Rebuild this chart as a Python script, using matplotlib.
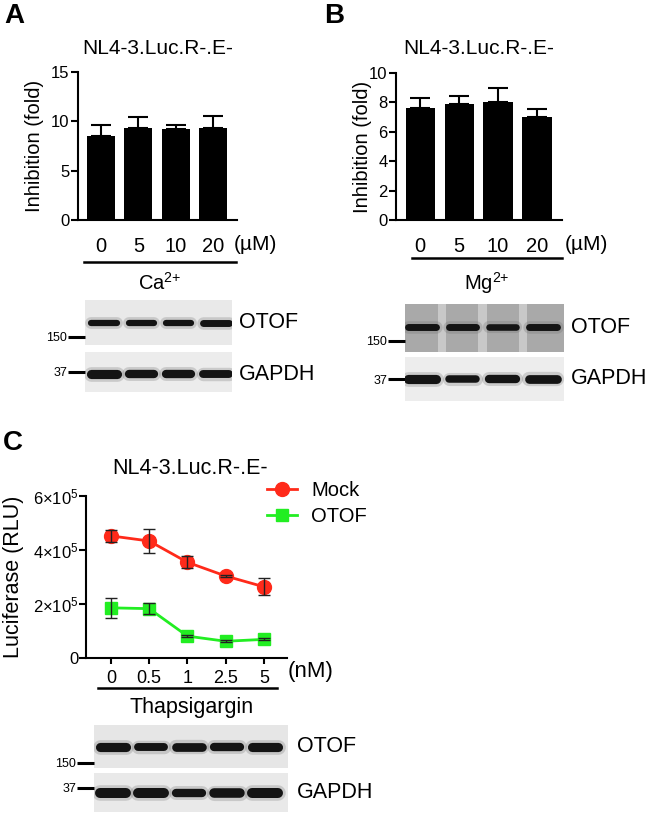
import matplotlib
matplotlib.use("Agg")
import matplotlib.pyplot as plt
import numpy as np

plt.rcParams['font.family'] = ['Liberation Sans', 'DejaVu Sans']
plt.rcParams['mathtext.fontset'] = 'custom'
plt.rcParams['mathtext.rm'] = 'Liberation Sans'
plt.rcParams['mathtext.it'] = 'Liberation Sans:italic'
plt.rcParams['mathtext.bf'] = 'Liberation Sans:bold'

W, H = 650, 815

# data
conc_labels = ['0', '5', '10', '20']
ca_mean = [8.5, 9.35, 9.25, 9.3]
ca_err = [1.1, 1.1, 0.4, 1.2]
mg_mean = [7.65, 7.9, 8.03, 7.0]
mg_err = [0.68, 0.55, 0.95, 0.58]

tg_labels = ['0', '0.5', '1', '2.5', '5']
mock_mean = [4.52e5, 4.33e5, 3.54e5, 3.03e5, 2.63e5]
mock_err = [0.22e5, 0.45e5, 0.23e5, 0.05e5, 0.31e5]
otof_mean = [1.85e5, 1.82e5, 0.80e5, 0.61e5, 0.68e5]
otof_err = [0.37e5, 0.20e5, 0.04e5, 0.03e5, 0.04e5]

# relative band strength per lane (western blots)
a_otof_bands = [0.9, 0.9, 0.9, 1.0]
a_gapdh_bands = [1.1, 1.0, 1.0, 0.95]
b_otof_bands = [1.0, 1.0, 0.95, 1.0]
b_gapdh_bands = [1.1, 0.9, 1.0, 1.05]
c_otof_bands = [1.1, 0.95, 1.05, 1.0, 1.1]
c_gapdh_bands = [1.2, 1.2, 1.0, 1.15, 1.2]

fig = plt.figure(figsize=(6.5, 8.15), dpi=100)


def add_ax(x0, y0, x1, y1):
    return fig.add_axes([x0 / W, 1 - y1 / H, (x1 - x0) / W, (y1 - y0) / H])


def ftext(x, y, s, **kw):
    fig.text(x / W, 1 - y / H, s, **kw)


def fline(x0, x1, y, lw=1.8):
    fig.add_artist(plt.Line2D([x0 / W, x1 / W], [1 - y / H] * 2,
                              color='black', lw=lw))


def bar_panel(box, means, errs, ymax, step):
    ax = add_ax(*box)
    x = np.arange(len(means))
    ax.bar(x, means, width=0.75, color='black', zorder=2)
    ax.errorbar(x, means, yerr=[np.zeros(len(errs)), errs], fmt='none',
                ecolor='black', elinewidth=1.5, capsize=7, capthick=1.5, zorder=1)
    ax.set_ylim(0, ymax)
    ax.set_yticks(np.arange(0, ymax + 0.01, step))
    ax.set_xlim(-0.62, len(means) - 0.36)
    ax.set_xticks(x)
    ax.set_xticklabels(conc_labels, fontsize=14.5)
    ax.tick_params(axis='x', length=0, pad=12)
    ax.tick_params(axis='y', length=5, width=1.5, labelsize=12, pad=1)
    for s in ['top', 'right']:
        ax.spines[s].set_visible(False)
    for s in ['left', 'bottom']:
        ax.spines[s].set_linewidth(1.5)
    return ax


def blot(box, bands, band_y, xl, bg, mark_y, mark, label, gaps=None, bw=5.5):
    ax = add_ax(*box)
    ax.set_facecolor(bg)
    ax.set_xlim(*xl)
    ax.set_ylim(1, 0)
    if gaps:
        for i in range(len(bands) - 1):
            ax.axvspan(i + 0.5 - gaps[0], i + 0.5 + gaps[0], color=gaps[1], lw=0)
    for i, s in enumerate(bands):
        ax.plot([i - 0.34, i + 0.34], [band_y, band_y], color='#666666',
                lw=bw * s + 4, alpha=0.25, solid_capstyle='round')
        ax.plot([i - 0.34, i + 0.34], [band_y, band_y], color='#141414',
                lw=bw * s, solid_capstyle='round')
    ax.set_xticks([])
    ax.set_yticks([mark_y])
    ax.set_yticklabels([mark], fontsize=9)
    ax.tick_params(axis='y', length=12, width=2.2, pad=1)
    for s in ax.spines.values():
        s.set_visible(False)
    ax.text(1.045, band_y, label, transform=ax.get_yaxis_transform(),
            fontsize=15.5, va='center', ha='left')
    return ax


# ---------------- panel A ----------------
bar_panel((78, 72, 237, 220), ca_mean, ca_err, 15, 5)
ftext(14, 16, 'A', fontsize=20, fontweight='bold', ha='center', va='center')
ftext(158, 48, 'NL4-3.Luc.R-.E-', fontsize=15, ha='center', va='center')
ftext(35, 146, 'Inhibition (fold)', fontsize=14.5, rotation=90, ha='center', va='center')
ftext(234, 245, '(µM)', fontsize=15, ha='left', va='center')
fline(84, 236, 262)
ftext(160, 283, r'Ca$^{2{+}}$', fontsize=14.5, ha='center', va='center')
blot((85, 300, 232, 345), a_otof_bands, 0.51, (-0.51, 3.43), '#e9e9e9', 0.82, '150', 'OTOF', bw=5)
blot((85, 352, 232, 392), a_gapdh_bands, 0.55, (-0.51, 3.43), '#ececec', 0.5, '37', 'GAPDH', bw=6)

# ---------------- panel B ----------------
bar_panel((396, 73, 562, 220), mg_mean, mg_err, 10, 2)
ftext(334, 16, 'B', fontsize=20, fontweight='bold', ha='center', va='center')
ftext(479, 48, 'NL4-3.Luc.R-.E-', fontsize=15, ha='center', va='center')
ftext(363, 147, 'Inhibition (fold)', fontsize=14.5, rotation=90, ha='center', va='center')
ftext(565, 245, '(µM)', fontsize=15, ha='left', va='center')
fline(412, 562, 258)
ftext(487, 283, r'Mg$^{2{+}}$', fontsize=14.5, ha='center', va='center')
blot((405, 304, 564, 352), b_otof_bands, 0.48, (-0.42, 3.52), '#a9a9a9', 0.77, '150', 'OTOF',
     gaps=(0.1, '#c8c8c8'), bw=5)
blot((405, 357, 564, 401), b_gapdh_bands, 0.5, (-0.42, 3.52), '#ededed', 0.5, '37', 'GAPDH', bw=6)

# ---------------- panel C ----------------
axc = add_ax(86, 496, 287, 657.7)
x = np.arange(len(tg_labels))
axc.plot(x, mock_mean, color='#ff2a1a', lw=2, marker='o', ms=10, label='Mock', zorder=2)
axc.plot(x, otof_mean, color='#22ee22', lw=2, marker='s', ms=9, label='OTOF', zorder=2)
axc.errorbar(x, mock_mean, yerr=mock_err, fmt='none', ecolor='#222222',
             elinewidth=1, capsize=4, capthick=1, zorder=3)
axc.errorbar(x, otof_mean, yerr=otof_err, fmt='none', ecolor='#222222',
             elinewidth=1, capsize=4, capthick=1, zorder=3)
axc.set_ylim(0, 6e5)
axc.set_yticks([0, 2e5, 4e5, 6e5])
axc.set_yticklabels(['0', r'$2{\times}10^5$', r'$4{\times}10^5$', r'$6{\times}10^5$'])
axc.set_xlim(-0.65, 4.6)
axc.set_xticks(x)
axc.set_xticklabels(tg_labels, fontsize=13)
axc.tick_params(axis='x', length=4, width=1.5, pad=5)
axc.tick_params(axis='y', length=5, width=1.5, labelsize=12, pad=0)
for s in ['top', 'right']:
    axc.spines[s].set_visible(False)
for s in ['left', 'bottom']:
    axc.spines[s].set_linewidth(1.5)
axc.legend(loc='center left', bbox_to_anchor=(267 / W, 1 - 503.5 / H),
           bbox_transform=fig.transFigure, frameon=False, fontsize=14.5,
           handlelength=1.5, handletextpad=0.7, labelspacing=0.35,
           borderpad=0, borderaxespad=0)

ftext(13, 443, 'C', fontsize=20, fontweight='bold', ha='center', va='center')
ftext(190, 468, 'NL4-3.Luc.R-.E-', fontsize=15.5, ha='center', va='center')
ftext(14, 577, 'Luciferase (RLU)', fontsize=15.5, rotation=90, ha='center', va='center')
ftext(288, 672, '(nM)', fontsize=16, ha='left', va='center')
fline(98, 277, 688)
ftext(192, 707, 'Thapsigargin', fontsize=15.5, ha='center', va='center')
blot((94, 725, 288, 768), c_otof_bands, 0.51, (-0.5, 4.6), '#e6e6e6', 0.88, '150', 'OTOF', bw=6)
blot((94, 773, 288, 812), c_gapdh_bands, 0.51, (-0.5, 4.6), '#e9e9e9', 0.38, '37', 'GAPDH', bw=6)

fig.savefig('out.png', dpi=100)
